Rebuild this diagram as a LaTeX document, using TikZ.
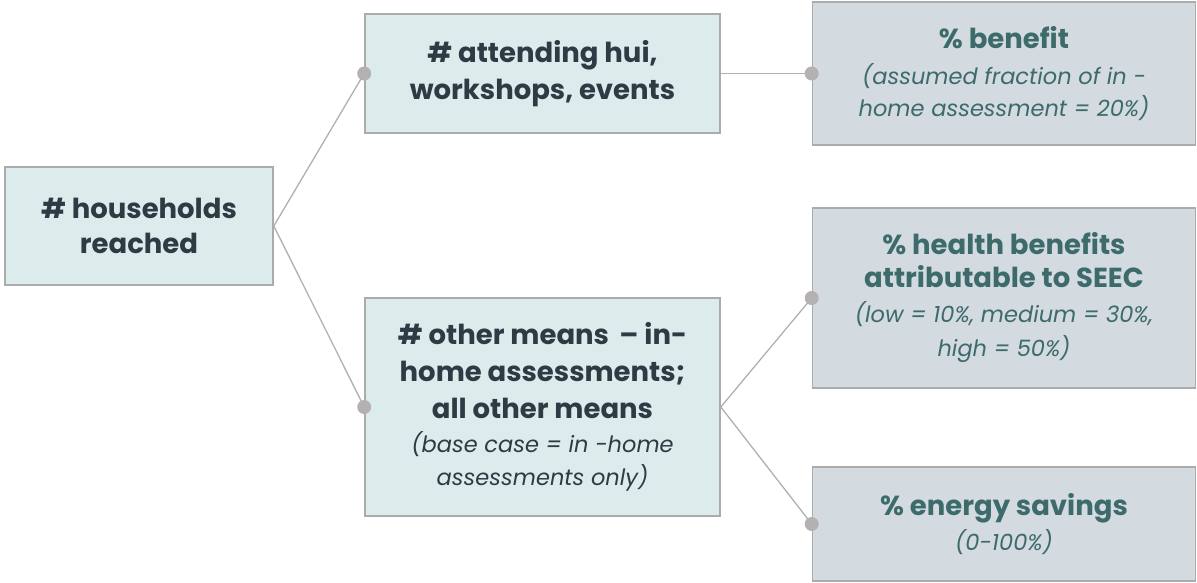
\documentclass[tikz,border=0pt]{standalone}
\usepackage{fontspec}
\setmainfont{Poppins}
\definecolor{boxA}{HTML}{DCEBEB}
\definecolor{boxB}{HTML}{D3DAE0}
\definecolor{edge}{HTML}{ABABAB}
\definecolor{darktxt}{HTML}{2E3B44}
\definecolor{tealtxt}{HTML}{3D6B6C}
\definecolor{dotc}{HTML}{B5B1B1}
\definecolor{linec}{HTML}{B0B0B0}
\begin{document}
\begin{tikzpicture}[x=1pt,y=-1pt,
  base/.style={draw=edge,line width=1.6pt,rectangle,align=center,inner sep=0pt},
  leftbox/.style={base,fill=boxA,text=darktxt},
  rightbox/.style={base,fill=boxB,text=tealtxt},
  conn/.style={draw=linec,line width=1.3pt},
  jdot/.style={circle,fill=dotc,inner sep=0pt,minimum size=14pt},
  bt/.style={font=\fontsize{27.5}{37}\selectfont\bfseries},
]
\useasboundingbox (0,0) rectangle (1197,583);
\newcommand{\ital}[1]{{\fontsize{22.5}{31}\selectfont\mdseries\itshape #1}}
\node[leftbox,bt,minimum width=268pt,minimum height=118pt] (hh) at (139,226) {\# households\\[-2pt]reached};
\node[leftbox,bt,minimum width=355pt,minimum height=119pt] (att) at (542.5,73.5) {\# attending hui,\\workshops, events};
\node[leftbox,bt,minimum width=355pt,minimum height=218pt] (oth) at (542.5,407) {\# other means\, -- in-\\home assessments;\\all other means\\[-3pt]\ital{(base case = in -home}\\[-4pt]\ital{assessments only)}};
\node[rightbox,bt,minimum width=383pt,minimum height=143pt] (ben) at (1004,73.5) {\% benefit\\[-1pt]\ital{(assumed fraction of in -}\\[-5pt]\ital{home assessment = 20\%)}};
\node[rightbox,bt,minimum width=383pt,minimum height=180pt] (hea) at (1004,298) {\% health benefits\\[-4pt]attributable to SEEC\\[-2pt]\ital{(low = 10\%, medium = 30\%,}\\[-3pt]\ital{high = 50\%)}};
\node[rightbox,bt,minimum width=383pt,minimum height=114pt] (ene) at (1004,524) {\% energy savings\\[-2pt]\ital{(0-100\%)}};
\draw[conn] (hh.east) -- (att.west);
\draw[conn] (hh.east) -- (oth.west);
\draw[conn] (att.east) -- (ben.west);
\draw[conn] (oth.east) -- (hea.west);
\draw[conn] (oth.east) -- (ene.west);
\node[jdot] (d1) at (att.west) {};
\node[jdot] (d2) at (oth.west) {};
\node[jdot] (d3) at (ben.west) {};
\node[jdot] (d4) at (hea.west) {};
\node[jdot] (d5) at (ene.west) {};
\end{tikzpicture}
\end{document}
